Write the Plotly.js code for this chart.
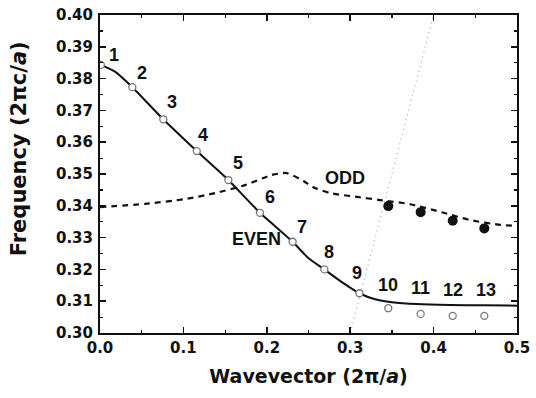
<!DOCTYPE html>
<html><head><meta charset="utf-8">
<script src="https://cdn.plot.ly/plotly-3.0.1.min.js"></script>
<style>html,body{margin:0;padding:0;background:#fff}#c{width:536px;height:398px}</style>
</head><body><div id="c"></div>
<script>
// Even mode measured points (open circles)
const evenK = [0.001, 0.0388, 0.0759, 0.116, 0.1539, 0.1918, 0.231, 0.269, 0.311, 0.3457, 0.3845, 0.4229, 0.4608];
const evenF = [0.3843, 0.3773, 0.3672, 0.3572, 0.3481, 0.3378, 0.3287, 0.3200, 0.3125, 0.3078, 0.3060, 0.3054, 0.3054];
// Even mode calculated curve (solid)
const evenCurveK = [0.000, 0.018, 0.0388, 0.0759, 0.116, 0.1539, 0.1918, 0.231, 0.250, 0.269, 0.290, 0.311, 0.330, 0.350, 0.380, 0.420, 0.460, 0.500];
const evenCurveF = [0.3845, 0.3822, 0.3773, 0.3672, 0.3572, 0.3481, 0.3378, 0.3287, 0.3235, 0.3200, 0.3160, 0.3125, 0.3106, 0.3097, 0.3091, 0.3088, 0.3087, 0.3086];
// Odd mode measured points (filled circles)
const oddK = [0.3457, 0.3845, 0.4229, 0.4608];
const oddF = [0.3399, 0.3380, 0.3353, 0.3329];
// Odd mode calculated curve (dashed)
const oddCurveK = [0.000, 0.054, 0.102, 0.138, 0.174, 0.206, 0.224, 0.244, 0.255, 0.276, 0.308, 0.336, 0.372, 0.412, 0.444, 0.480, 0.500];
const oddCurveF = [0.3396, 0.3406, 0.3421, 0.3440, 0.3465, 0.3497, 0.3503, 0.3478, 0.3459, 0.3440, 0.3428, 0.3418, 0.3405, 0.3378, 0.3355, 0.3340, 0.3337];
// Light line (dotted)
const lightK = [0.300, 0.336, 0.370, 0.400];
const lightF = [0.300, 0.336, 0.370, 0.400];
// Point labels
const labelText = ["1","2","3","4","5","6","7","8","9","10","11","12","13","EVEN","ODD"];
const labelK = [0.0171, 0.0500, 0.0867, 0.1239, 0.1651, 0.2038, 0.2418, 0.2749, 0.3078, 0.3457, 0.3845, 0.4229, 0.4628, 0.1871, 0.2938];
const labelF = [0.3874, 0.3817, 0.3727, 0.3623, 0.3534, 0.3429, 0.3332, 0.3256, 0.3190, 0.3151, 0.3141, 0.3135, 0.3135, 0.3295, 0.3486];

const LFONT = "Liberation Sans, Arial, sans-serif";
const TFONT = "DejaVu Sans, sans-serif";
const traces = [
  {x: lightK, y: lightF, mode: 'lines', line: {color: '#a8a8a8', width: 1.2, dash: '1px,4px'}, hoverinfo: 'skip'},
  {x: oddCurveK, y: oddCurveF, mode: 'lines', line: {color: '#111', width: 2.2, dash: '6px,5px', shape: 'spline', smoothing: 0.6}},
  {x: evenCurveK, y: evenCurveF, mode: 'lines', line: {color: '#111', width: 2, shape: 'spline', smoothing: 0.5}},
  {x: evenK, y: evenF, mode: 'markers', marker: {symbol: 'circle', size: 7, color: '#fff', line: {color: '#777', width: 1.3}}},
  {x: oddK, y: oddF, mode: 'markers', marker: {symbol: 'circle', size: 10, color: '#111', line: {color: '#111', width: 0}}}
];
const annotations = labelText.map((t, i) => ({
  x: labelK[i], y: labelF[i], text: '<b>' + t + '</b>', showarrow: false,
  xanchor: 'center', yanchor: 'middle', font: {family: LFONT, size: 18, color: '#111'}
}));
annotations.push({
  xref: 'paper', yref: 'paper', x: -0.195, y: 0.58, textangle: -90,
  text: '<b>Frequency (2πc/<i>a</i>)</b>', showarrow: false, xanchor: 'center', yanchor: 'middle',
  font: {family: TFONT, size: 21, color: '#111'}
});
const layout = {
  width: 536, height: 398,
  margin: {l: 100, r: 19, t: 15, b: 65},
  paper_bgcolor: '#fff', plot_bgcolor: '#fff',
  showlegend: false,
  font: {family: TFONT, color: '#111'},
  annotations: annotations,
  xaxis: {
    range: [0, 0.5], dtick: 0.1, tickformat: '.1f', ticks: 'inside', ticklen: 6, tickwidth: 1.5, tickcolor: '#111',
    minor: {dtick: 0.05, ticks: 'inside', ticklen: 3, tickwidth: 1.2, tickcolor: '#111'},
    showline: true, linecolor: '#111', linewidth: 2, mirror: 'ticks', showgrid: false, zeroline: false,
    tickfont: {family: TFONT, size: 15, color: '#111', weight: 'bold'},
    title: {text: '<b>Wavevector (2π/<i>a</i>)</b>', font: {family: TFONT, size: 19, color: '#111'}, standoff: 14}
  },
  yaxis: {
    range: [0.30, 0.40], dtick: 0.01, tickformat: '.2f', ticks: 'inside', ticklen: 6, tickwidth: 1.5, tickcolor: '#111',
    minor: {dtick: 0.005, ticks: 'inside', ticklen: 3, tickwidth: 1.2, tickcolor: '#111'},
    showline: true, linecolor: '#111', linewidth: 2, mirror: 'ticks', showgrid: false, zeroline: false,
    tickfont: {family: TFONT, size: 15, color: '#111', weight: 'bold'},
    ticklabelstandoff: 2
  }
};
Plotly.newPlot('c', traces, layout, {displayModeBar: false, staticPlot: true});
</script>
</body></html>
